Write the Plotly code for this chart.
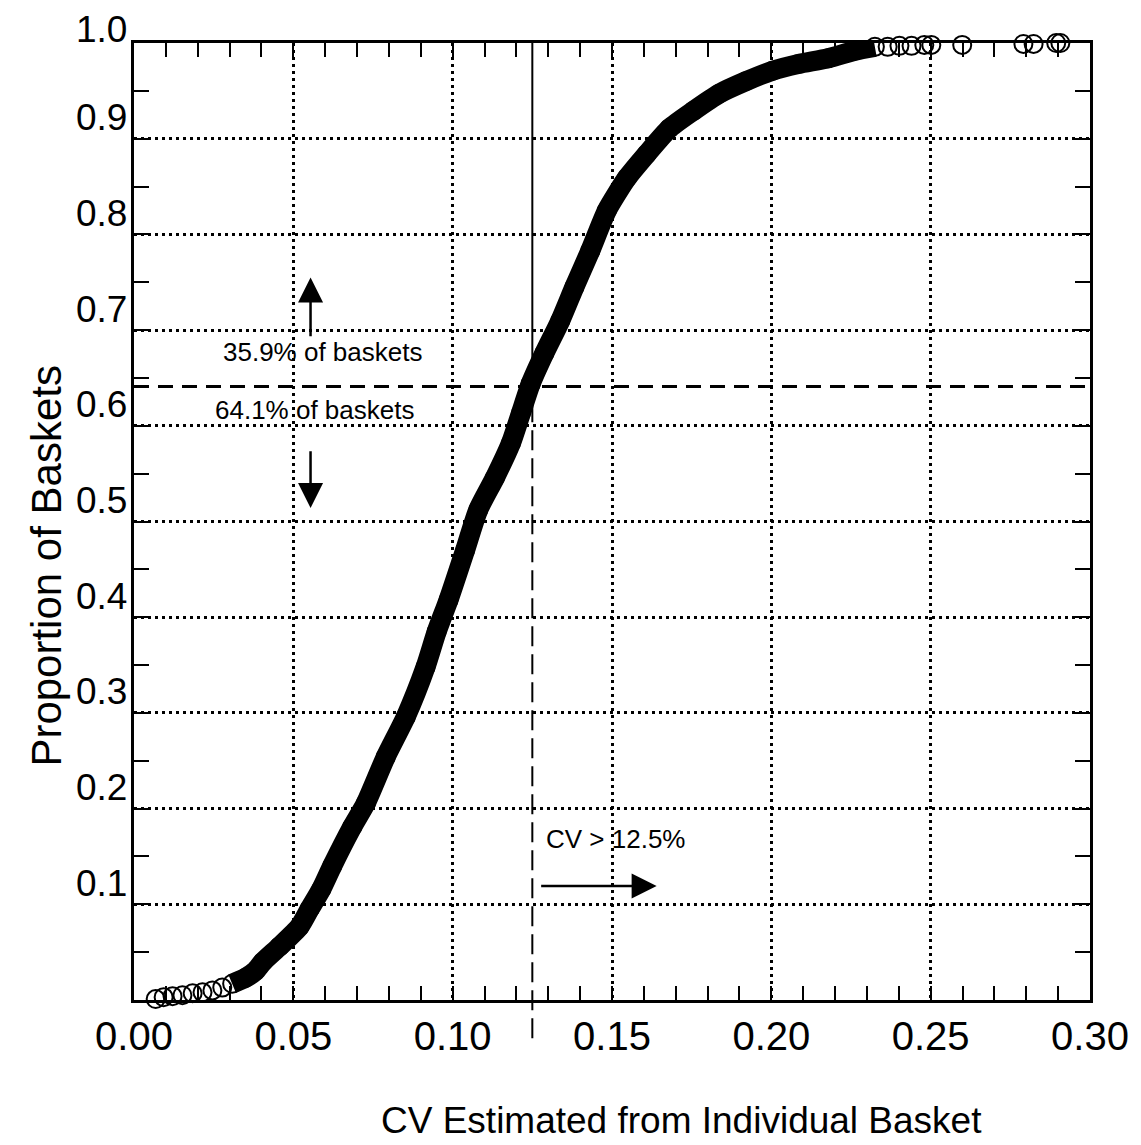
import plotly.graph_objects as go

cv = [0.0068, 0.0093, 0.0121, 0.0152, 0.0184, 0.0215, 0.0246, 0.0277, 0.0308,
      0.0349, 0.0380, 0.0405, 0.0457, 0.0520, 0.0551, 0.0588, 0.0622, 0.0685,
      0.0728, 0.0790, 0.0853, 0.0915, 0.0950, 0.0987, 0.1039, 0.1080, 0.1133,
      0.1183, 0.1214, 0.1245, 0.1288, 0.1338, 0.1382, 0.1432, 0.1484, 0.1547,
      0.1609, 0.1681, 0.1755, 0.1836, 0.1920, 0.2004, 0.2085, 0.2178, 0.2262,
      0.2325, 0.2365, 0.2402, 0.2440, 0.2480, 0.2502, 0.2599, 0.2791, 0.2823,
      0.2894, 0.2907]
prop = [0.001, 0.003, 0.004, 0.005, 0.007, 0.008, 0.010, 0.013, 0.017,
        0.023, 0.030, 0.040, 0.056, 0.077, 0.095, 0.116, 0.140, 0.181,
        0.206, 0.254, 0.296, 0.348, 0.385, 0.418, 0.470, 0.512, 0.546,
        0.582, 0.613, 0.644, 0.676, 0.710, 0.745, 0.783, 0.825, 0.859,
        0.884, 0.911, 0.929, 0.947, 0.960, 0.971, 0.978, 0.984, 0.992,
        0.996, 0.996, 0.997, 0.997, 0.998, 0.998, 0.998, 0.999, 0.999,
        1.000, 1.000]

# dense part of the curve, where the circles merge into a solid band
dense_from, dense_to = 8, 46

cv_cut = 0.125
prop_cut = 0.641

x_ticks = [0.00, 0.05, 0.10, 0.15, 0.20, 0.25, 0.30]
x_labels = ["0.00", "0.05", "0.10", "0.15", "0.20", "0.25", "0.30"]
y_ticks = [0.1, 0.2, 0.3, 0.4, 0.5, 0.6, 0.7, 0.8, 0.9, 1.0]
y_labels = ["0.1", "0.2", "0.3", "0.4", "0.5", "0.6", "0.7", "0.8", "0.9", "1.0"]

font = "Liberation Sans, Arial, sans-serif"

fig = go.Figure()
fig.add_trace(go.Scatter(
    x=cv[dense_from:dense_to], y=prop[dense_from:dense_to],
    mode="lines", line=dict(color="black", width=20, shape="spline", smoothing=0.6),
    hoverinfo="skip", showlegend=False))
fig.add_trace(go.Scatter(
    x=cv, y=prop, mode="markers", cliponaxis=False,
    marker=dict(symbol="circle-open", size=18, color="black", line=dict(width=2)),
    showlegend=False))

# cut-off lines
fig.add_shape(type="line", x0=cv_cut, x1=cv_cut, y0=prop_cut, y1=1,
              xref="x", yref="y", line=dict(color="black", width=2))
fig.add_shape(type="line", x0=cv_cut, x1=cv_cut, y0=-0.04, y1=prop_cut,
              xref="x", yref="paper", line=dict(color="black", width=2, dash="20px,8px"))
fig.add_shape(type="line", x0=0, x1=1.004, y0=prop_cut, y1=prop_cut,
              xref="paper", yref="y", line=dict(color="black", width=3, dash="15px,9px"))

ann = dict(font=dict(family=font, size=26, color="black"), showarrow=False)
fig.add_annotation(x=0.0591, y=0.677, text="35.9% of baskets", **ann)
fig.add_annotation(x=0.0566, y=0.616, text="64.1% of baskets", **ann)
fig.add_annotation(x=0.1512, y=0.168, text="CV > 12.5%", **ann)

arr = dict(showarrow=True, arrowhead=2, arrowsize=2, arrowwidth=2.5, arrowcolor="black",
           axref="x", ayref="y", text="")
fig.add_annotation(x=0.0554, y=0.755, ax=0.0554, ay=0.692, **arr)
fig.add_annotation(x=0.0554, y=0.514, ax=0.0554, ay=0.575, **arr)
fig.add_annotation(x=0.164, y=0.119, ax=0.1273, ay=0.119, **arr)

# y tick labels sit a little above their gridlines in the original
for v, lab in zip(y_ticks, y_labels):
    fig.add_annotation(text=lab, xref="paper", yref="y", x=0, y=v,
                       xanchor="right", yanchor="middle", xshift=-5,
                       yshift=21 if v < 1 else 14,
                       showarrow=False, font=dict(family=font, size=37, color="black"))

# axis titles
fig.add_annotation(text="CV Estimated from Individual Basket", xref="paper", yref="paper",
                   x=0.5726, y=-0.126, xanchor="center", yanchor="middle", showarrow=False,
                   font=dict(family=font, size=37, color="black"))
fig.add_annotation(text="Proportion of Baskets", xref="paper", yref="paper",
                   x=-0.0913, y=0.4536, xanchor="center", yanchor="middle",
                   textangle=-90, showarrow=False,
                   font=dict(family=font, size=42, color="black"))

grid = dict(showgrid=True, gridcolor="black", gridwidth=2.5, griddash="3px,4px",
            showline=True, linecolor="black", linewidth=2.5, mirror="ticks",
            ticks="inside", tickwidth=2, tickcolor="black", zeroline=False)

fig.update_layout(
    width=1133, height=1137,
    margin=dict(l=126, r=43, t=35, b=145),
    paper_bgcolor="white", plot_bgcolor="white",
    xaxis=dict(range=[0, 0.30], tickvals=x_ticks, ticktext=x_labels, ticklen=14,
               minor=dict(dtick=0.01, tick0=0, ticks="inside", ticklen=14, tickwidth=2,
                          tickcolor="black", showgrid=False),
               ticklabelstandoff=-1,
               tickfont=dict(family=font, size=40, color="black"),
               **grid),
    yaxis=dict(range=[0, 1.0], tickvals=y_ticks, ticklen=15, showticklabels=False,
               minor=dict(dtick=0.05, tick0=0, ticks="inside", ticklen=15, tickwidth=2,
                          tickcolor="black", showgrid=False),
               **grid),
)

fig.write_html("out.html")
